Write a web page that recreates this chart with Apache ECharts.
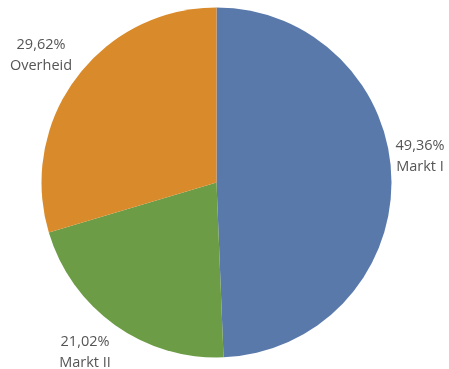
<!DOCTYPE html>
<html>
<head>
<meta charset="utf-8">
<script src="https://cdn.jsdelivr.net/npm/echarts@6/dist/echarts.min.js"></script>
<style>
  html, body { margin: 0; padding: 0; background: #fff; }
  #chart { width: 449px; height: 369px; }
</style>
</head>
<body>
<div id="chart"></div>
<script>
// Marktaandeel per segment
const segments = ['Markt I', 'Markt II', 'Overheid'];
const shares = [49.36, 21.02, 29.62];
const colors = ['#5a79ab', '#6c9c45', '#d98a2a'];

// Label anchor points (text block centre) per segment
const labelAnchors = [[420, 156], [85, 352], [41, 55]];

const chart = echarts.init(document.getElementById('chart'), null, { renderer: 'canvas' });

chart.setOption({
  animation: false,
  backgroundColor: '#ffffff',
  series: [{
    type: 'pie',
    center: [216.5, 182.5],
    radius: [0, 175],
    startAngle: 90,
    clockwise: true,
    avoidLabelOverlap: false,
    data: segments.map((name, i) => ({
      name: name,
      value: shares[i],
      itemStyle: { color: colors[i] }
    })),
    itemStyle: { borderWidth: 0 },
    emphasis: { disabled: true },
    label: {
      show: true,
      position: 'outside',
      formatter: p => p.value.toFixed(2).replace('.', ',') + '%\n' + p.name,
      fontFamily: 'Open Sans',
      fontSize: 14.5,
      lineHeight: 21,
      color: '#555555',
      align: 'center'
    },
    labelLine: { show: false },
    labelLayout: params => ({
      x: labelAnchors[params.dataIndex][0],
      y: labelAnchors[params.dataIndex][1],
      align: 'center',
      verticalAlign: 'middle'
    })
  }]
});
</script>
</body>
</html>
